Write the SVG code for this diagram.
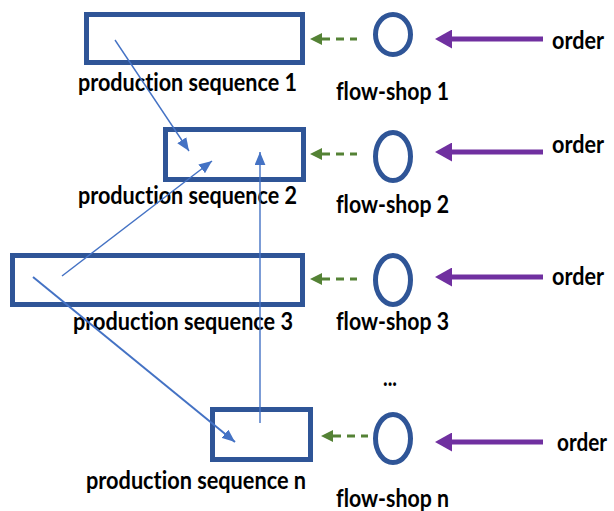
<svg xmlns="http://www.w3.org/2000/svg" width="614" height="511" viewBox="0 0 614 511">
<defs>
<style>
.box{fill:none;stroke:#2F5597;stroke-width:5}
.shop{fill:none;stroke:#2F5597;stroke-width:5}
.t{font-family:Lato,"Liberation Sans",sans-serif;font-weight:bold;font-size:24px;fill:#000;font-variant-ligatures:none}
.blue{stroke:#4472C4;stroke-width:1.4;fill:none}
.green{stroke:#548235;stroke-width:3;stroke-dasharray:8 6;fill:none}
.purple{stroke:#7030A0;stroke-width:5;fill:none}
</style>
<marker id="ab" viewBox="0 0 12 10" refX="12" refY="5" markerWidth="13" markerHeight="11" markerUnits="userSpaceOnUse" orient="auto">
<path d="M0,0 L12,5 L0,10 Z" fill="#4472C4"/>
</marker>
<marker id="ag" viewBox="0 0 12 12" refX="12" refY="6" markerWidth="12" markerHeight="12" markerUnits="userSpaceOnUse" orient="auto">
<path d="M12,0 L0,6 L12,12 Z" fill="#548235"/>
</marker>
<marker id="ap" viewBox="0 0 17 19" refX="17" refY="9.5" markerWidth="17" markerHeight="19" markerUnits="userSpaceOnUse" orient="auto">
<path d="M17,0 L0,9.5 L17,19 Z" fill="#7030A0"/>
</marker>
</defs>
<g id="ps1"><rect class="box" x="86.5" y="14.5" width="216" height="48"/><text class="t" x="78" y="91" textLength="219" lengthAdjust="spacingAndGlyphs">production sequence 1</text></g>
<g id="ps2"><rect class="box" x="165.5" y="129.5" width="138" height="50"/><text class="t" x="78" y="204" textLength="219" lengthAdjust="spacingAndGlyphs">production sequence 2</text></g>
<g id="ps3"><rect class="box" x="12.5" y="255.5" width="290" height="49"/><text class="t" x="73" y="330" textLength="220" lengthAdjust="spacingAndGlyphs">production sequence 3</text></g>
<g id="psn"><rect class="box" x="212.5" y="409.5" width="98" height="50"/><text class="t" x="86" y="489" textLength="220" lengthAdjust="spacingAndGlyphs">production sequence n</text></g>
<g id="fs1"><ellipse class="shop" cx="393" cy="34.5" rx="17.5" ry="20"/><text class="t" x="336" y="100" textLength="113" lengthAdjust="spacingAndGlyphs">flow-shop 1</text></g>
<g id="fs2"><ellipse class="shop" cx="393" cy="156.5" rx="17.5" ry="24"/><text class="t" x="336" y="213" textLength="113" lengthAdjust="spacingAndGlyphs">flow-shop 2</text></g>
<g id="fs3"><ellipse class="shop" cx="393" cy="280" rx="17.5" ry="24.5"/><text class="t" x="336" y="330" textLength="113" lengthAdjust="spacingAndGlyphs">flow-shop 3</text></g>
<g id="fsn"><ellipse class="shop" cx="393" cy="438.5" rx="17.5" ry="24"/><text class="t" x="336" y="507" textLength="113" lengthAdjust="spacingAndGlyphs">flow-shop n</text></g>
<g id="ord1"><text class="t" x="552" y="49" textLength="52" lengthAdjust="spacingAndGlyphs">order</text></g>
<g id="ord2"><text class="t" x="552" y="153" textLength="52" lengthAdjust="spacingAndGlyphs">order</text></g>
<g id="ord3"><text class="t" x="552" y="285" textLength="52" lengthAdjust="spacingAndGlyphs">order</text></g>
<g id="ordn"><text class="t" x="557" y="451" textLength="50" lengthAdjust="spacingAndGlyphs">order</text></g>
<g id="dots"><text class="t" x="383" y="386" textLength="14" lengthAdjust="spacingAndGlyphs">...</text></g>
<g id="connectors">
<line class="blue" x1="115" y1="40" x2="189" y2="151" marker-end="url(#ab)"/>
<line class="blue" x1="62" y1="276" x2="212" y2="161" marker-end="url(#ab)"/>
<line class="blue" x1="260" y1="423" x2="260" y2="152" marker-end="url(#ab)"/>
<line class="blue" style="stroke-width:2" x1="33" y1="277" x2="235" y2="442" marker-end="url(#ab)"/>
<line class="green" x1="322" y1="39" x2="357" y2="39" marker-start="url(#ag)"/>
<line class="green" x1="322" y1="154" x2="357" y2="154" marker-start="url(#ag)"/>
<line class="green" x1="322" y1="279" x2="357" y2="279" marker-start="url(#ag)"/>
<line class="green" x1="333" y1="436" x2="368" y2="436" marker-start="url(#ag)"/>
<line class="purple" x1="452" y1="39" x2="543" y2="39" marker-start="url(#ap)"/>
<line class="purple" x1="452" y1="152" x2="543" y2="152" marker-start="url(#ap)"/>
<line class="purple" x1="452" y1="277" x2="543" y2="277" marker-start="url(#ap)"/>
<line class="purple" x1="452" y1="442" x2="543" y2="442" marker-start="url(#ap)"/>
</g>
</svg>
